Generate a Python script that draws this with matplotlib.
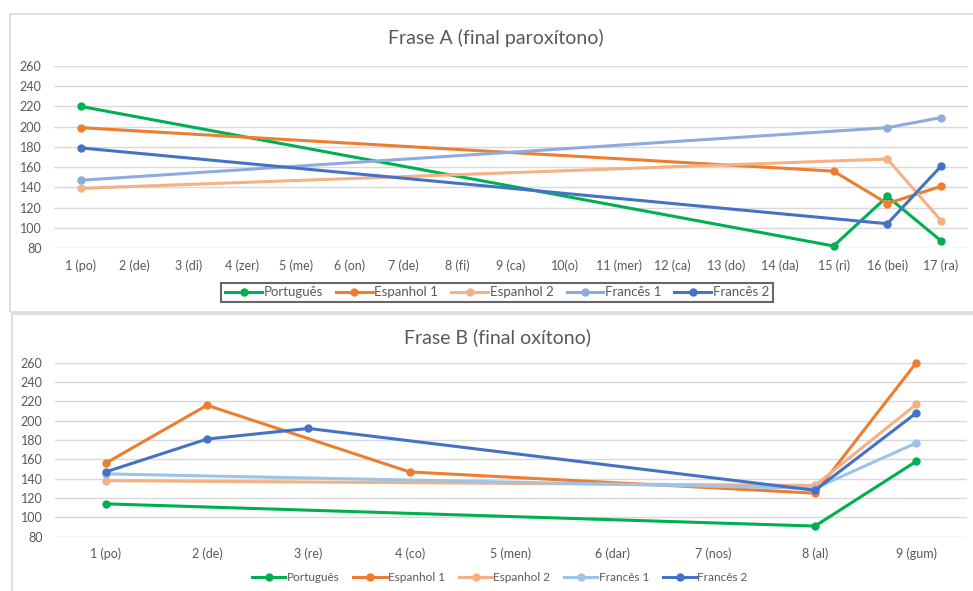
import numpy as np
import matplotlib.pyplot as plt
from matplotlib.patches import Rectangle

plt.rcParams['font.family'] = ['Lato', 'DejaVu Sans']

nan = np.nan

# Frase A
cat_a = ['1 (po)', '2 (de)', '3 (di)', '4 (zer)', '5 (me)', '6 (on)', '7 (de)', '8 (fi)',
         '9 (ca)', '10(o)', '11 (mer)', '12 (ca)', '13 (do)', '14 (da)', '15 (ri)',
         '16 (bei)', '17 (ra)']
port_a = [220] + [nan] * 13 + [82, 131, 87]
esp1_a = [199] + [nan] * 13 + [156, 124, 141]
esp2_a = [139] + [nan] * 13 + [nan, 168, 107]
fra1_a = [147] + [nan] * 13 + [nan, 199, 209]
fra2_a = [179] + [nan] * 13 + [nan, 104, 161]

# Frase B
cat_b = ['1 (po)', '2 (de)', '3 (re)', '4 (co)', '5 (men)', '6 (dar)', '7 (nos)', '8 (al)', '9 (gum)']
port_b = [114, nan, nan, nan, nan, nan, nan, 91, 158]
esp1_b = [156, 216, nan, 147, nan, nan, nan, 125, 260]
esp2_b = [138, nan, nan, nan, nan, nan, nan, 133, 217]
fra1_b = [145, nan, nan, nan, nan, nan, nan, 130, 177]
fra2_b = [147, 181, 192, nan, nan, nan, nan, 128, 208]

nomes = ['Português', 'Espanhol 1', 'Espanhol 2', 'Francês 1', 'Francês 2']
cores_a = ['#00B050', '#ED7D31', '#F4B183', '#8FAADC', '#4472C4']
cores_b = ['#00B050', '#ED7D31', '#F4B183', '#9DC3E6', '#4472C4']

fig = plt.figure(figsize=(9.73, 5.91), dpi=100)

# molduras dos dois graficos
fig.patches.append(Rectangle((9.5 / 973, 1 - 312 / 591), 1, (312 - 14) / 591,
                             transform=fig.transFigure, fill=False, ec='#d9d9d9', lw=1.2))
fig.patches.append(Rectangle((12 / 973, -0.01), 1, (1 - 314 / 591) + 0.01,
                             transform=fig.transFigure, fill=False, ec='#d9d9d9', lw=1.2))


def desenha(ax, cats, series, cores):
    x = np.arange(len(cats))
    for y, c, n in zip(series, cores, nomes):
        y = np.array(y, dtype=float)
        m = ~np.isnan(y)
        ax.plot(x[m], y[m], color=c, lw=2.2, marker='o', ms=5, label=n, clip_on=False)
    ax.set_xlim(-0.5, len(cats) - 0.5)
    ax.set_ylim(80, 260)
    ax.set_yticks(range(80, 261, 20))
    ax.set_xticks(x)
    ax.set_xticklabels(cats)
    ax.grid(axis='y', color='#d9d9d9', lw=1)
    ax.set_axisbelow(True)
    for s in ax.spines.values():
        s.set_visible(False)
    ax.tick_params(length=0, labelsize=9, labelcolor='#595959', pad=8)
    ax.tick_params(axis='y', pad=9)


ax1 = fig.add_axes([54 / 973, 1 - 248 / 591, 914 / 973, 182 / 591])
desenha(ax1, cat_a, [port_a, esp1_a, esp2_a, fra1_a, fra2_a], cores_a)
fig.text(496 / 973, 1 - 38 / 591, 'Frase A (final paroxítono)', fontsize=14,
         color='#595959', ha='center', va='center')
leg1 = ax1.legend(loc='center', bbox_to_anchor=(497 / 973, 1 - 292.5 / 591),
                  bbox_transform=fig.transFigure, ncol=5, fontsize=9.5, frameon=True,
                  fancybox=False, edgecolor='#404040', handlelength=2.8, columnspacing=1.0,
                  handletextpad=0.1, borderpad=0.3)
leg1.get_frame().set_linewidth(1.5)
for t in leg1.get_texts():
    t.set_color('#595959')

ax2 = fig.add_axes([55 / 973, 1 - 536.7 / 591, 912 / 973, 174 / 591])
desenha(ax2, cat_b, [port_b, esp1_b, esp2_b, fra1_b, fra2_b], cores_b)
fig.text(498 / 973, 1 - 337 / 591, 'Frase B (final oxítono)', fontsize=14,
         color='#595959', ha='center', va='center')
leg2 = ax2.legend(loc='center', bbox_to_anchor=(500 / 973, 1 - 577.7 / 591),
                  bbox_transform=fig.transFigure, ncol=5, fontsize=8.5, frameon=False,
                  handlelength=2.8, columnspacing=1.2, handletextpad=0.1)
for t in leg2.get_texts():
    t.set_color('#595959')

plt.savefig('out.png', dpi=100)
